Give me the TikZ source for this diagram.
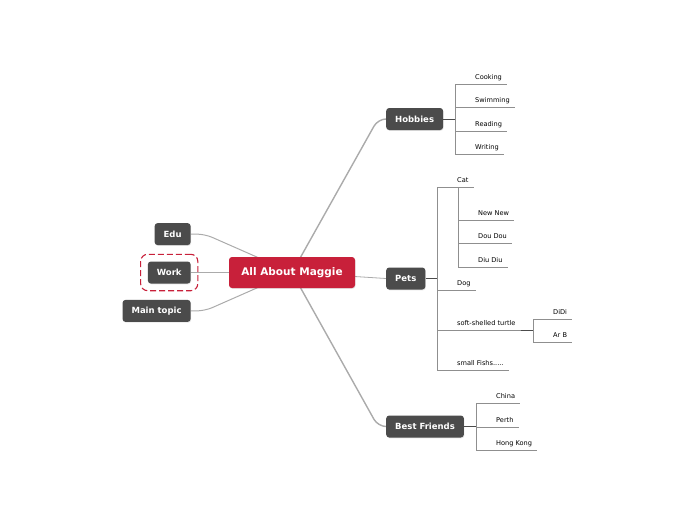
\documentclass[tikz,border=0pt]{standalone}
\usepackage{fontspec}
\setmainfont{DejaVu Sans}
\usetikzlibrary{positioning,calc,fit,backgrounds,shadows}

\definecolor{maggiered}{HTML}{C8203A}
\definecolor{topicgray}{HTML}{4B4B4B}
\definecolor{spokegray}{HTML}{ABABAB}
\definecolor{twiggray}{HTML}{8F8F8F}

\begin{document}
\begin{tikzpicture}[
    x=1pt, y=-1pt,
    root/.style={rectangle, fill=maggiered, text=white, rounded corners=3pt,
                 font=\fontsize{10.5}{12}\selectfont\bfseries,
                 minimum height=31pt, minimum width=126pt,
                 drop shadow={opacity=0.2, shadow xshift=0.6pt, shadow yshift=-0.8pt}},
    topic/.style={rectangle, fill=topicgray, text=white, rounded corners=3pt,
                  font=\fontsize{8.5}{10}\selectfont\bfseries,
                  minimum height=22pt, inner xsep=9pt,
                  drop shadow={opacity=0.2, shadow xshift=0.6pt, shadow yshift=-0.8pt}},
    leaf/.style={anchor=south west, font=\fontsize{6.6}{8}\selectfont,
                 text depth=1.3pt, inner xsep=5pt, inner ysep=3pt},
    spoke/.style={draw=spokegray, line width=1.4pt, rounded corners=8pt},
    twig/.style={draw=twiggray, line width=0.6pt},
    stem/.style={draw=topicgray, line width=0.9pt}
]
\useasboundingbox (0,0) rectangle (697,520);

%% ── Centre and left topics ───────────────────────────────────────
\node[root] (root) at (292,272.5) {All About Maggie};

\node[topic, left=38pt of root] (work) {Work};
\node[topic, above left=16pt and 0pt of work.north east] (edu) {Edu};
\node[topic, below left=16pt and 0pt of work.south east] (mt) {Main topic};

\node[draw=maggiered, dash pattern=on 6pt off 3pt, line width=1.1pt,
      rounded corners=7pt, inner sep=7pt, fit=(work)] (workframe) {};

%% ── Right topics ─────────────────────────────────────────────────
\node[topic, anchor=west] (hob)  at (386,119)   {Hobbies};
\node[topic, anchor=west] (pets) at (386,278.5) {Pets};
\node[topic, anchor=west] (bf)   at (386,426.5) {Best Friends};

\coordinate (hobspine)  at (455,119);
\coordinate (petspine)  at (437,278.5);
\coordinate (bfspine)   at (476,426.5);
\coordinate (catspine)  at (458,187);
\coordinate (turtspine) at (533,330);

%% ── Leaves ───────────────────────────────────────────────────────
\node[leaf] (cook) at (470,84)  {Cooking};
\node[leaf] (swim) at (470,107) {Swimming};
\node[leaf] (read) at (470,131) {Reading};
\node[leaf] (writ) at (470,154) {Writing};

\node[leaf] (cat)    at (452,187) {Cat};
\node[leaf] (dog)    at (452,290) {Dog};
\node[leaf] (turtle) at (452,330) {soft-shelled turtle};
\node[leaf] (fish)   at (452,370) {small Fishs.....};

\node[leaf] (newnew) at (473,220) {New New};
\node[leaf] (doudou) at (473,243) {Dou Dou};
\node[leaf] (diudiu) at (473,267) {Diu Diu};

\node[leaf] (didi) at (548,319) {DiDi};
\node[leaf] (arb)  at (548,342) {Ar B};

\node[leaf] (china) at (491,403) {China};
\node[leaf] (perth) at (491,427) {Perth};
\node[leaf] (hk)    at (491,450) {Hong Kong};

%% ── Spokes from the centre ───────────────────────────────────────
\begin{scope}[on background layer]
\draw[spoke] (root.center) -- ([xshift=-8pt]hob.west) -- (hob.west);
\draw[spoke, line width=0.8pt] (root.center) -- (pets.west);
\draw[spoke] (root.center) -- ([xshift=-8pt]bf.west) -- (bf.west);
\draw[spoke, line width=1pt] (root.center) -- ([xshift=14pt]edu.east) -- (edu.east);
\draw[spoke, line width=0.8pt] (root.center) -- (work.east);
\draw[spoke, line width=1pt] (root.center) -- ([xshift=14pt]mt.east) -- (mt.east);
\end{scope}

%% ── Branches ─────────────────────────────────────────────────────
\draw[stem] (hob.east) -- (hobspine);
\draw[twig] (hobspine |- cook.south) -- (hobspine |- writ.south);
\foreach \n in {cook,swim,read,writ}
    \draw[twig] (hobspine |- \n.south) -- (\n.south east);

\draw[stem] (pets.east) -- (petspine);
\draw[twig] (petspine |- cat.south) -- (petspine |- fish.south);
\foreach \n in {cat,dog,turtle,fish}
    \draw[twig] (petspine |- \n.south) -- (\n.south east);

\draw[twig] (catspine) -- (catspine |- diudiu.south);
\foreach \n in {newnew,doudou,diudiu}
    \draw[twig] (catspine |- \n.south) -- (\n.south east);

\draw[stem] (turtle.south east) -- (turtspine);
\draw[twig] (turtspine |- didi.south) -- (turtspine |- arb.south);
\foreach \n in {didi,arb}
    \draw[twig] (turtspine |- \n.south) -- (\n.south east);

\draw[stem] (bf.east) -- (bfspine);
\draw[twig] (bfspine |- china.south) -- (bfspine |- hk.south);
\foreach \n in {china,perth,hk}
    \draw[twig] (bfspine |- \n.south) -- (\n.south east);
\end{tikzpicture}
\end{document}
